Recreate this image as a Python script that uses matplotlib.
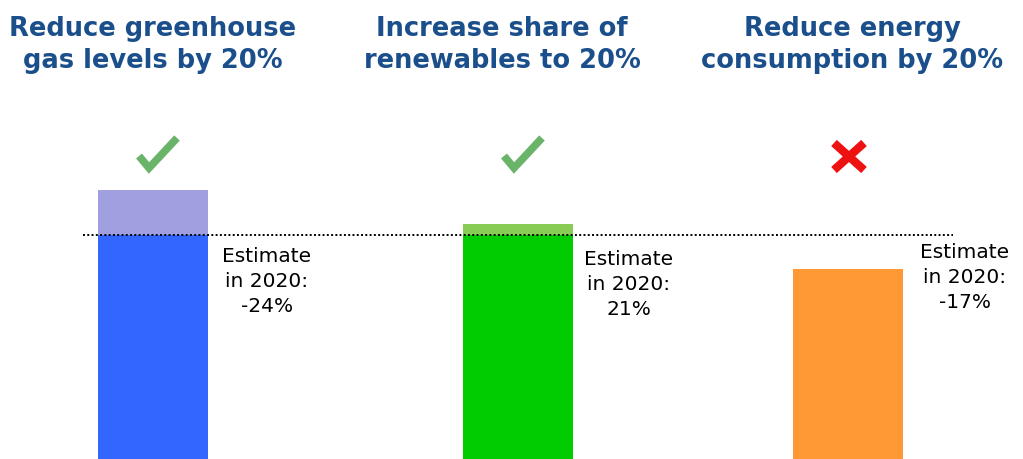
import matplotlib.pyplot as plt

# goals and estimates (percent)
titles = ["Reduce greenhouse\ngas levels by 20%",
          "Increase share of\nrenewables to 20%",
          "Reduce energy\nconsumption by 20%"]
target = 20
estimates = [24, 21, 17]
labels = ["-24%", "21%", "-17%"]
achieved = [True, True, False]

dark = ["#3366ff", "#00cc00", "#ff9933"]
light = ["#a0a0e0", "#88cc55", "#ffc080"]

W, H = 1023, 460
centers = [153, 518, 848]
title_x = [153, 502, 852]
note_x = [267, 629, 965]
note_y = [247, 250, 243]

fig = plt.figure(figsize=(W / 100, H / 100), dpi=100)
ax = fig.add_axes([0, 0, 1, 1])
ax.set_xlim(0, W)
ax.set_ylim(0, H / 11.2)
ax.axis("off")


def px(x, y):
    return x / W, 1 - y / H


def draw_px(xs, ys, **kw):
    pts = [px(x, y) for x, y in zip(xs, ys)]
    ax.plot([p[0] for p in pts], [p[1] for p in pts], transform=ax.transAxes,
            solid_capstyle="butt", solid_joinstyle="miter", **kw)


for i, v in enumerate(estimates):
    low = min(v, target)
    ax.bar(centers[i], low, width=110, color=dark[i])
    if v > target:
        ax.bar(centers[i], v - target, bottom=target, width=110, color=light[i])

    ax.text(*px(title_x[i], 45), titles[i], transform=ax.transAxes,
            ha="center", va="center", fontsize=18.5, fontweight="bold",
            color="#1a4f8b", linespacing=1.3)

    ax.text(*px(note_x[i], note_y[i]), "Estimate\nin 2020:\n" + labels[i],
            transform=ax.transAxes, ha="center", va="top", fontsize=14.5,
            color="black", linespacing=1.4)

    c = centers[i]
    if achieved[i]:
        draw_px([c - 14, c - 4, c + 24], [157, 169, 139], color="#6ab46a", lw=5.5)
    else:
        draw_px([c - 14, c + 16], [144, 171], color="#ee1111", lw=6)
        draw_px([c + 16, c - 14], [144, 171], color="#ee1111", lw=6)

ax.plot([83, 953], [target, target], linestyle=(0, (1, 1.2)), color="black", lw=1.4)

fig.savefig("out.png", dpi=100)
